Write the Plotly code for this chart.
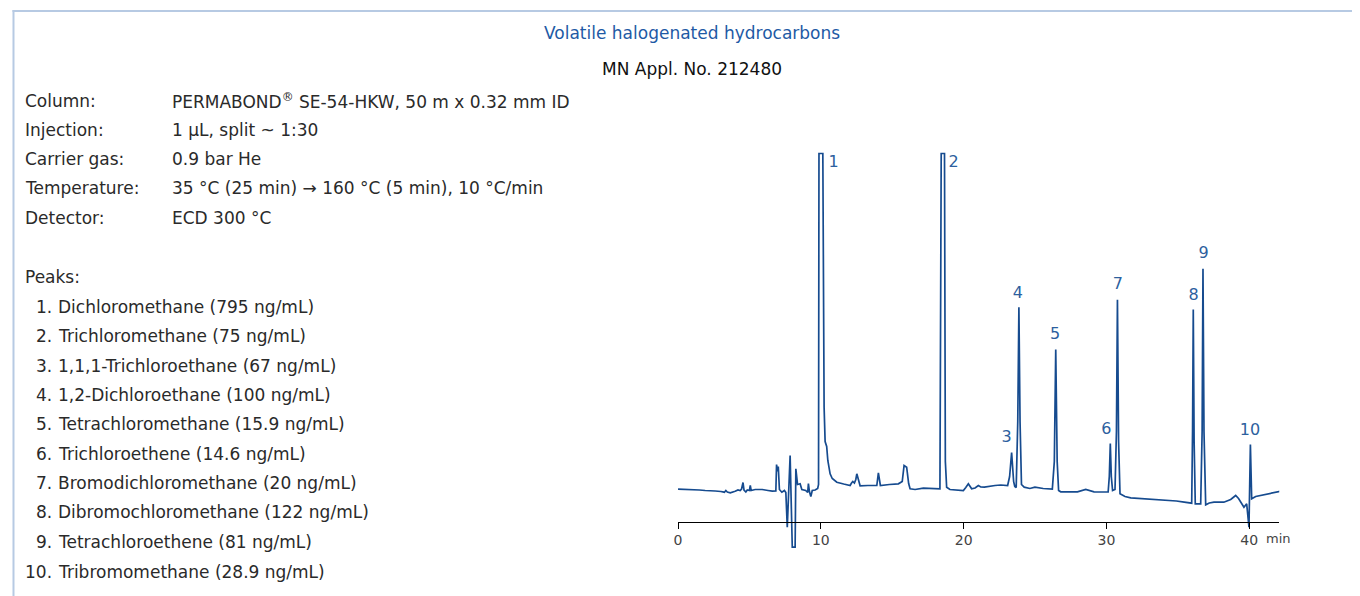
import plotly.graph_objects as go

# ---------------- data ----------------
time_min = [
    0.0, 0.5, 1.0, 1.5, 1.9, 2.3, 2.6, 3.0, 3.25, 3.35, 3.45, 3.66, 3.85, 4.0, 4.2, 4.35, 4.45,
    4.55, 4.62, 4.75, 4.85, 5.0, 5.06, 5.12, 5.4, 5.9, 6.3, 6.6, 6.85, 6.9, 6.97, 7.02, 7.1,
    7.27, 7.45, 7.55, 7.65, 7.74, 7.85, 8.0, 8.2, 8.25, 8.37, 8.55, 8.67, 8.94, 9.08, 9.13,
    9.2, 9.3, 9.4, 9.6, 9.78, 9.84, 9.87, 10.14, 10.18, 10.23, 10.3, 10.41, 10.49, 10.65,
    10.8, 11.12, 11.6, 12.05, 12.15, 12.24, 12.35, 12.45, 12.52, 12.6, 12.75, 13.3, 13.92,
    14.03, 14.17, 14.8, 15.43, 15.7, 15.83, 16.01, 16.15, 16.25, 16.6, 17.18, 17.8, 18.34,
    18.43, 18.66, 18.72, 18.81, 19.04, 19.5, 19.98, 20.15, 20.33, 20.56, 20.8, 21.03, 21.2,
    21.45, 21.84, 22.2, 22.6, 23.08, 23.22, 23.36, 23.5, 23.58, 23.68, 23.79, 23.87, 23.95,
    24.05, 24.24, 24.64, 24.99, 25.57, 26.21, 26.35, 26.45, 26.55, 26.65, 26.8, 27.4, 27.97,
    28.55, 29.13, 29.7, 30.12, 30.2, 30.27, 30.34, 30.43, 30.6, 30.7, 30.77, 30.85, 30.95,
    31.3, 31.7, 32.4, 33.1, 33.7, 34.3, 34.9, 35.45, 35.97, 36.03, 36.08, 36.14, 36.22, 36.6,
    36.7, 36.76, 36.83, 36.95, 37.2, 37.53, 38.22, 38.7, 39.05, 39.25, 39.4, 39.63, 39.82,
    39.98, 40.08, 40.17, 40.45, 40.8, 41.5, 42.2,
]
signal = [
    32.3, 32.2, 32.0, 31.5, 31.0, 31.0, 30.5, 30.0, 29.3, 31.0, 29.5, 28.7, 30.0, 30.3, 31.5, 31.0, 32.5,
    39.0, 31.5, 29.5, 31.5, 31.0, 36.0, 31.0, 32.0, 32.0, 31.0, 30.3, 30.5, 57.0, 50.0, 55.0, 32.0,
    29.3, 31.0, 29.0, -5.7, 22.7, 66.0, -25.7, -25.7, 52.7, 37.0, 37.7, 32.0, 31.0, 29.0, 38.0,
    30.0, 25.0, 31.0, 31.5, 33.0, 37.0, 368.0, 368.0, 200.0, 114.0, 80.0, 75.0, 61.0, 47.7,
    43.0, 39.3, 37.5, 36.0, 38.5, 40.0, 38.5, 42.0, 47.7, 44.0, 35.7, 36.0, 36.0,
    48.7, 36.0, 37.0, 37.7, 40.0, 56.0, 54.3, 38.0, 32.7, 32.0, 33.3, 32.7, 32.7,
    368.0, 368.0, 60.0, 34.3, 32.0, 31.5, 31.0, 34.0, 37.7, 32.7, 33.5, 36.0, 34.5,
    34.3, 35.5, 36.0, 36.5, 36.0, 45.0, 69.0, 40.0, 35.0, 34.0, 100.0, 214.3, 100.0,
    37.0, 34.3, 33.0, 34.3, 33.0, 32.5, 60.0, 172.0, 60.0, 31.0, 29.7, 29.5, 29.7,
    32.0, 29.7, 29.5, 29.5, 45.0, 78.0, 45.0, 31.0, 32.0, 90.0, 221.7, 80.0, 27.7,
    25.0, 23.7, 23.0, 22.7, 22.3, 21.7, 20.5, 19.3, 18.3, 90.0, 212.0, 80.0, 17.7, 17.7,
    90.0, 252.7, 90.0, 16.7, 18.5, 19.3, 19.3, 22.0, 26.0, 23.0, 19.3, 14.3, 17.7,
    -5.7, 77.0, 22.7, 25.0, 26.0, 27.7, 30.3,
]

peak_numbers = ["1", "2", "3", "4", "5", "6", "7", "8", "9", "10"]
peak_label_time = [10.9, 19.3, 23.0, 23.8, 26.4, 30.0, 30.8, 36.1, 36.8, 40.05]
peak_label_signal = [359, 359, 83.5, 227.5, 186.5, 91.5, 236.5, 225.5, 267.5, 90.5]

x_ticks = [0, 10, 20, 30, 40]
x_tick_labels = ["0", "10", "20", "30", "40"]

title_text = "Volatile halogenated hydrocarbons"
subtitle_text = "MN Appl. No. 212480"

condition_labels = ["Column:", "Injection:", "Carrier gas:", "Temperature:", "Detector:"]
condition_values = [
    "PERMABOND<sup>®</sup> SE-54-HKW, 50 m x 0.32 mm ID",
    "1 µL, split ~ 1:30",
    "0.9 bar He",
    "35 °C (25 min) → 160 °C (5 min), 10 °C/min",
    "ECD 300 °C",
]
peak_names = [
    "Dichloromethane (795 ng/mL)",
    "Trichloromethane (75 ng/mL)",
    "1,1,1-Trichloroethane (67 ng/mL)",
    "1,2-Dichloroethane (100 ng/mL)",
    "Tetrachloromethane (15.9 ng/mL)",
    "Trichloroethene (14.6 ng/mL)",
    "Bromodichloromethane (20 ng/mL)",
    "Dibromochloromethane (122 ng/mL)",
    "Tetrachloroethene (81 ng/mL)",
    "Tribromomethane (28.9 ng/mL)",
]

# ---------------- styling ----------------
OFF = 8                      # page body margin of the html
W, H = 1360 - OFF, 596 - OFF
FONT = "DejaVu Sans, Liberation Sans, Arial, sans-serif"
TEXT_COLOR = "#2a2a2a"
LINE_COLOR = "#164b8f"
LABEL_BLUE = "#2d5f9e"
TITLE_BLUE = "#1e5aa5"
BORDER = "#b7cae3"
FS = 17

def px(x):
    return (x - OFF) / W

def py(y):
    return 1 - (y - OFF) / H

x_left_px, x_right_px = 676.0, 1279.0
y_top_px, y_bot_px = 141.5, 561.5
y_range = [-40, 380]
x_range = [0, 42.1]
axis_y_px = 521.5
PADL = 6

fig = go.Figure()
fig.add_trace(go.Scatter(
    x=time_min, y=signal, mode="lines",
    line=dict(color=LINE_COLOR, width=1.7),
    hoverinfo="skip", showlegend=False,
))
fig.add_trace(go.Scatter(
    x=peak_label_time, y=peak_label_signal, mode="text",
    text=peak_numbers, textposition="middle center",
    textfont=dict(family=FONT, size=16, color=LABEL_BLUE),
    hoverinfo="skip", showlegend=False,
))

def note(x, y, text, anchor="left", size=FS, color=TEXT_COLOR):
    return dict(x=px(x), y=py(y), xref="paper", yref="paper", text=text,
                showarrow=False, xanchor=anchor, yanchor="middle",
                font=dict(family=FONT, size=size, color=color))

annotations = [
    note(690, 33, title_text, "center", FS, TITLE_BLUE),
    note(690, 69, subtitle_text, "center", FS, "#111111"),
]

cond_y = [101, 130, 159, 188, 218]
for lab, val, yy in zip(condition_labels, condition_values, cond_y):
    annotations.append(note(25 - PADL, yy, lab))
    annotations.append(note(172 - PADL, yy, val))

annotations.append(note(25 - PADL, 277, "Peaks:"))
list_y = [307, 336, 366, 395, 424, 454, 483, 512, 542, 572]
for num, name, yy in zip(peak_numbers, peak_names, list_y):
    annotations.append(note(50, yy, num + ".", "right"))
    annotations.append(note(58 - PADL, yy, name))

annotations.append(note(1270 - PADL, 538, "min", "left", 13, "#444444"))

shapes = [
    dict(type="line", xref="paper", yref="paper", x0=px(9.5), x1=px(9.5), y0=py(10), y1=py(610),
         line=dict(color=BORDER, width=2)),
    dict(type="line", xref="paper", yref="paper", x0=px(8.5), x1=px(1375), y0=py(11), y1=py(11),
         line=dict(color=BORDER, width=2)),
]

fig.update_layout(
    width=W, height=H,
    margin=dict(l=0, r=0, t=0, b=0),
    paper_bgcolor="white", plot_bgcolor="rgba(0,0,0,0)",
    font=dict(family=FONT, color=TEXT_COLOR),
    showlegend=False,
    annotations=annotations,
    shapes=shapes,
    xaxis=dict(
        domain=[px(x_left_px), px(x_right_px)],
        range=x_range, anchor="free", position=py(axis_y_px),
        showgrid=False, zeroline=False,
        showline=True, linecolor="#000000", linewidth=1.3,
        ticks="outside", ticklen=6, tickwidth=1.2, tickcolor="#000000",
        tickvals=x_ticks, ticktext=x_tick_labels,
        tickfont=dict(family=FONT, size=14, color="#444444"),
        fixedrange=True,
    ),
    yaxis=dict(
        domain=[py(y_bot_px), py(y_top_px)],
        range=y_range, visible=False, fixedrange=True,
    ),
)

fig.write_html("out.html")
